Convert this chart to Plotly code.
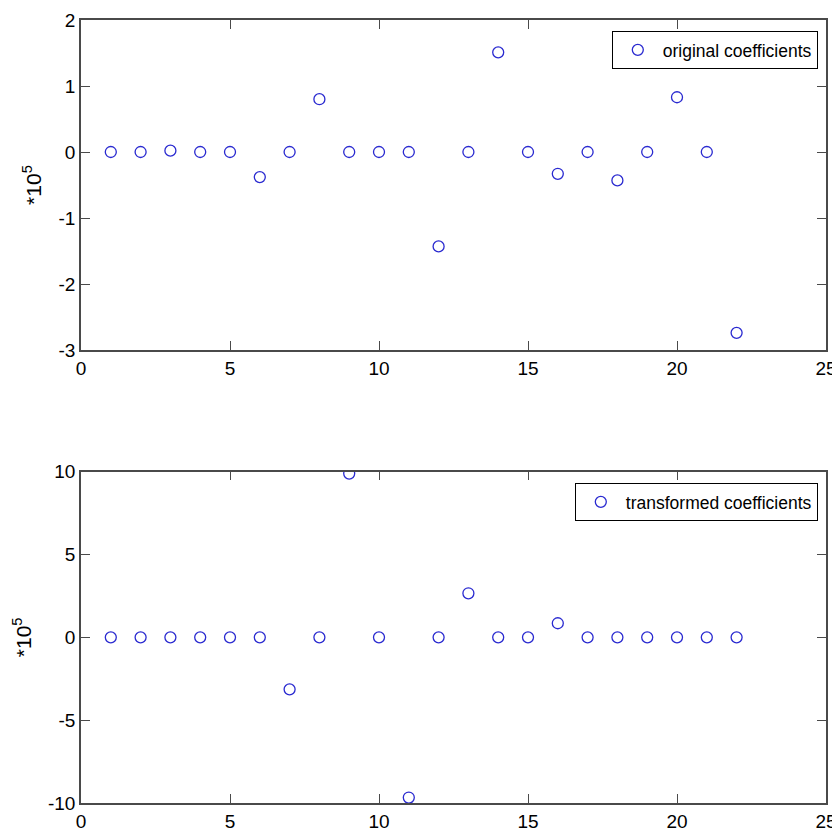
import plotly.graph_objects as go

idx = list(range(1, 23))
original = [0, 0, 0.02, 0, 0, -0.38, 0, 0.80, 0, 0, 0, -1.43, 0, 1.51, 0, -0.33, 0, -0.43, 0, 0.83, 0, -2.74]
transformed = [0, 0, 0, 0, 0, 0, -3.14, 0, 9.89, 0, -9.67, 0, 2.66, 0, 0, 0.85, 0, 0, 0, 0, 0, 0]
x_ticks = [0, 5, 10, 15, 20, 25]
y1_ticks = [-3, -2, -1, 0, 1, 2]
y2_ticks = [-10, -5, 0, 5, 10]
y_label = "*10<sup>5</sup>"

FONT = "Liberation Sans, Arial, sans-serif"
MCOL = "#2a2ad0"
AXCOL = "#4a4a4a"

fig = go.Figure()
fig.add_trace(go.Scatter(x=idx, y=original, mode="markers", name="original coefficients",
                         marker=dict(symbol="circle-open", size=11, color=MCOL, line=dict(width=1.3)),
                         xaxis="x", yaxis="y", legend="legend"))
fig.add_trace(go.Scatter(x=idx, y=transformed, mode="markers", name="transformed coefficients",
                         marker=dict(symbol="circle-open", size=11, color=MCOL, line=dict(width=1.3)),
                         xaxis="x2", yaxis="y2", legend="legend2"))

ax_common = dict(showline=True, linecolor=AXCOL, linewidth=1.5, mirror="ticks", ticks="inside",
                 ticklen=9, tickcolor=AXCOL, tickwidth=1.2, showgrid=False, zeroline=False,
                 automargin=False, tickfont=dict(family=FONT, size=19, color="black"))

def labels(vals):
    return [str(v) for v in vals]

title_font = dict(family=FONT, size=21, color="black")
legend_common = dict(xanchor="right", yanchor="top", bordercolor="black", borderwidth=1,
                     bgcolor="white", itemwidth=40, font=dict(family=FONT, size=17.5, color="black"))

fig.update_layout(
    width=840, height=837,
    margin=dict(l=73, r=22, t=12, b=42),
    paper_bgcolor="white", plot_bgcolor="white",
    showlegend=True,
    xaxis=dict(domain=[0, 1], range=[0, 25], tickvals=x_ticks, ticktext=labels(x_ticks), anchor="y", **ax_common),
    yaxis=dict(domain=[0.5785, 1], range=[-3, 2], tickvals=y1_ticks, ticktext=labels(y1_ticks), anchor="x",
               title=dict(text=y_label, font=title_font, standoff=11), **ax_common),
    xaxis2=dict(domain=[0, 1], range=[0, 25], tickvals=x_ticks, ticktext=labels(x_ticks), anchor="y2", **ax_common),
    yaxis2=dict(domain=[0, 0.4231], range=[-10, 10], tickvals=y2_ticks, ticktext=labels(y2_ticks), anchor="x2",
                title=dict(text=y_label, font=title_font, standoff=11), **ax_common),
    legend=dict(x=0.989, y=0.986, **legend_common),
    legend2=dict(x=0.989, y=0.4087, **legend_common),
)

fig.write_html("out.html")
